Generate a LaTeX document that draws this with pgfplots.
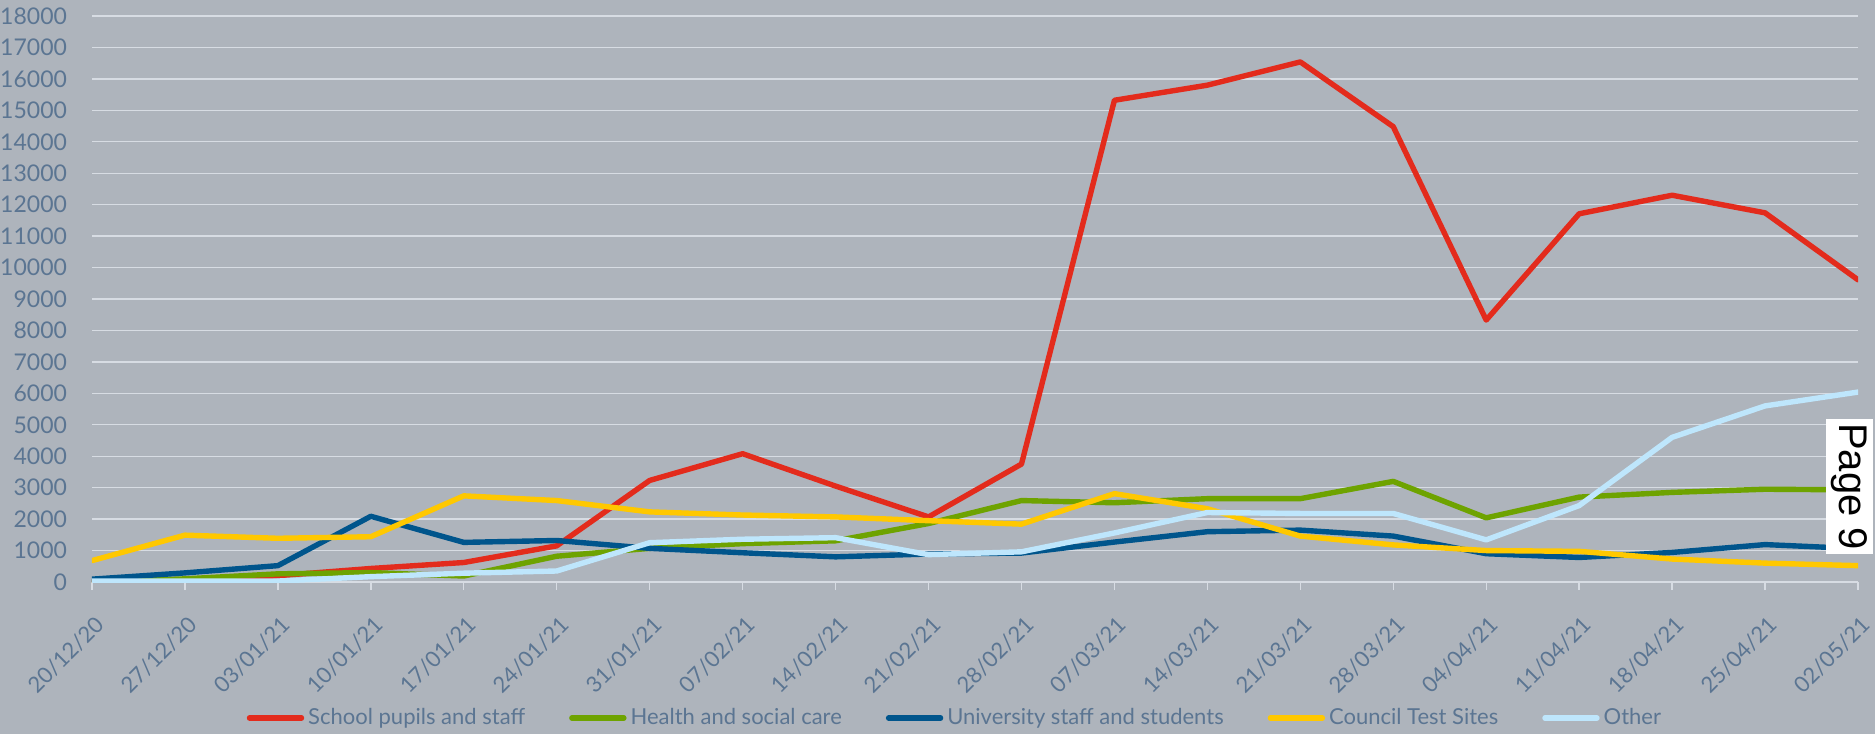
\documentclass[border=0pt]{standalone}
\usepackage{fontspec}
\setmainfont{Lato}
\newfontfamily\pagefont{Liberation Sans}
\usepackage{pgfplots}
\usepackage{pgfplotstable}
\pgfplotsset{compat=1.18}
\definecolor{bgc}{HTML}{AEB4BC}
\definecolor{gridc}{HTML}{D7DCE3}
\definecolor{tickc}{HTML}{5B7592}
\definecolor{cRed}{HTML}{E32B1C}
\definecolor{cGreen}{HTML}{6EA300}
\definecolor{cBlue}{HTML}{00558C}
\definecolor{cYellow}{HTML}{FFC800}
\definecolor{cLight}{HTML}{BEE6FC}

% weekly positives by setting
\pgfplotstableread{
idx school health univ council other
0   0     0    90   680   30
1   0     100  290  1490  30
2   200   260  520  1390  30
3   430   300  2090 1440  170
4   620   190  1260 2740  280
5   1150  820  1320 2590  350
6   3230  1070 1070 2230  1250
7   4080  1220 930  2130  1360
8   3050  1310 800  2070  1410
9   2070  1860 890  1950  870
10  3750  2590 920  1840  960
11  15320 2520 1270 2810  1560
12  15800 2650 1600 2330  2210
13  16540 2650 1650 1460  2180
14  14480 3200 1460 1180  2180
15  8330  2040 900  1000  1340
16  11710 2700 780  975   2430
17  12300 2850 940  730   4600
18  11740 2950 1190 600   5600
19  9610  2930 1060 520   6040
}\datatable

\begin{document}
\begin{tikzpicture}
\fill[bgc] (-46pt,-76pt) rectangle (891.5pt,291pt);
\begin{axis}[
  at={(0pt,0pt)}, anchor=south west,
  scale only axis,
  width=883pt, height=283pt,
  xmin=0, xmax=19,
  ymin=0, ymax=18000,
  ytick distance=1000,
  scaled y ticks=false,
  xtick={0,...,19},
  xticklabels={20/12/20,27/12/20,03/01/21,10/01/21,17/01/21,24/01/21,31/01/21,07/02/21,14/02/21,21/02/21,28/02/21,07/03/21,14/03/21,21/03/21,28/03/21,04/04/21,11/04/21,18/04/21,25/04/21,02/05/21},
  axis line style={draw=none},
  ymajorgrids=true,
  grid style={draw=gridc, line width=0.7pt},
  ytick style={draw=none},
  xtick style={draw=gridc, line width=0.7pt},
  xtick pos=bottom,
  tick align=outside,
  major tick length=4pt,
  /pgf/number format/1000 sep={},
  /pgf/number format/assume math mode=true,
  tick label style={font=\fontsize{11.5}{13}\selectfont, text=tickc},
  yticklabel style={xshift=-5pt},
  xticklabel style={font=\fontsize{11}{13}\selectfont, rotate=45, anchor=north east, xshift=-4.5pt, yshift=-6pt},
  every axis plot/.append style={line width=2.7pt, line join=round, line cap=round},
  legend style={at={(0.4892,-0.2403)}, anchor=center, draw=none, fill=none,
    legend columns=5, font=\fontsize{11}{13}\selectfont, text=tickc,
    /tikz/every even column/.append style={column sep=20pt}},
  legend image code/.code={\draw[#1] (0pt,0pt) -- (26pt,0pt);},
]
\addplot[cRed] table[x=idx, y=school] {\datatable};
\addplot[cGreen] table[x=idx, y=health] {\datatable};
\addplot[cBlue] table[x=idx, y=univ] {\datatable};
\addplot[cYellow] table[x=idx, y=council] {\datatable};
\addplot[cLight] table[x=idx, y=other] {\datatable};
\legend{School pupils and staff, Health and social care, University staff and students, Council Test Sites, Other}
\end{axis}
\node[fill=white, inner sep=0pt, minimum width=67.5pt, minimum height=23.5pt, rotate=-90, font=\pagefont\fontsize{20}{20}\selectfont] at (878.5pt,47.75pt) {Page 9};
\pgfresetboundingbox
\path[use as bounding box] (-46pt,-76pt) rectangle (891.5pt,291pt);
\end{tikzpicture}
\end{document}
